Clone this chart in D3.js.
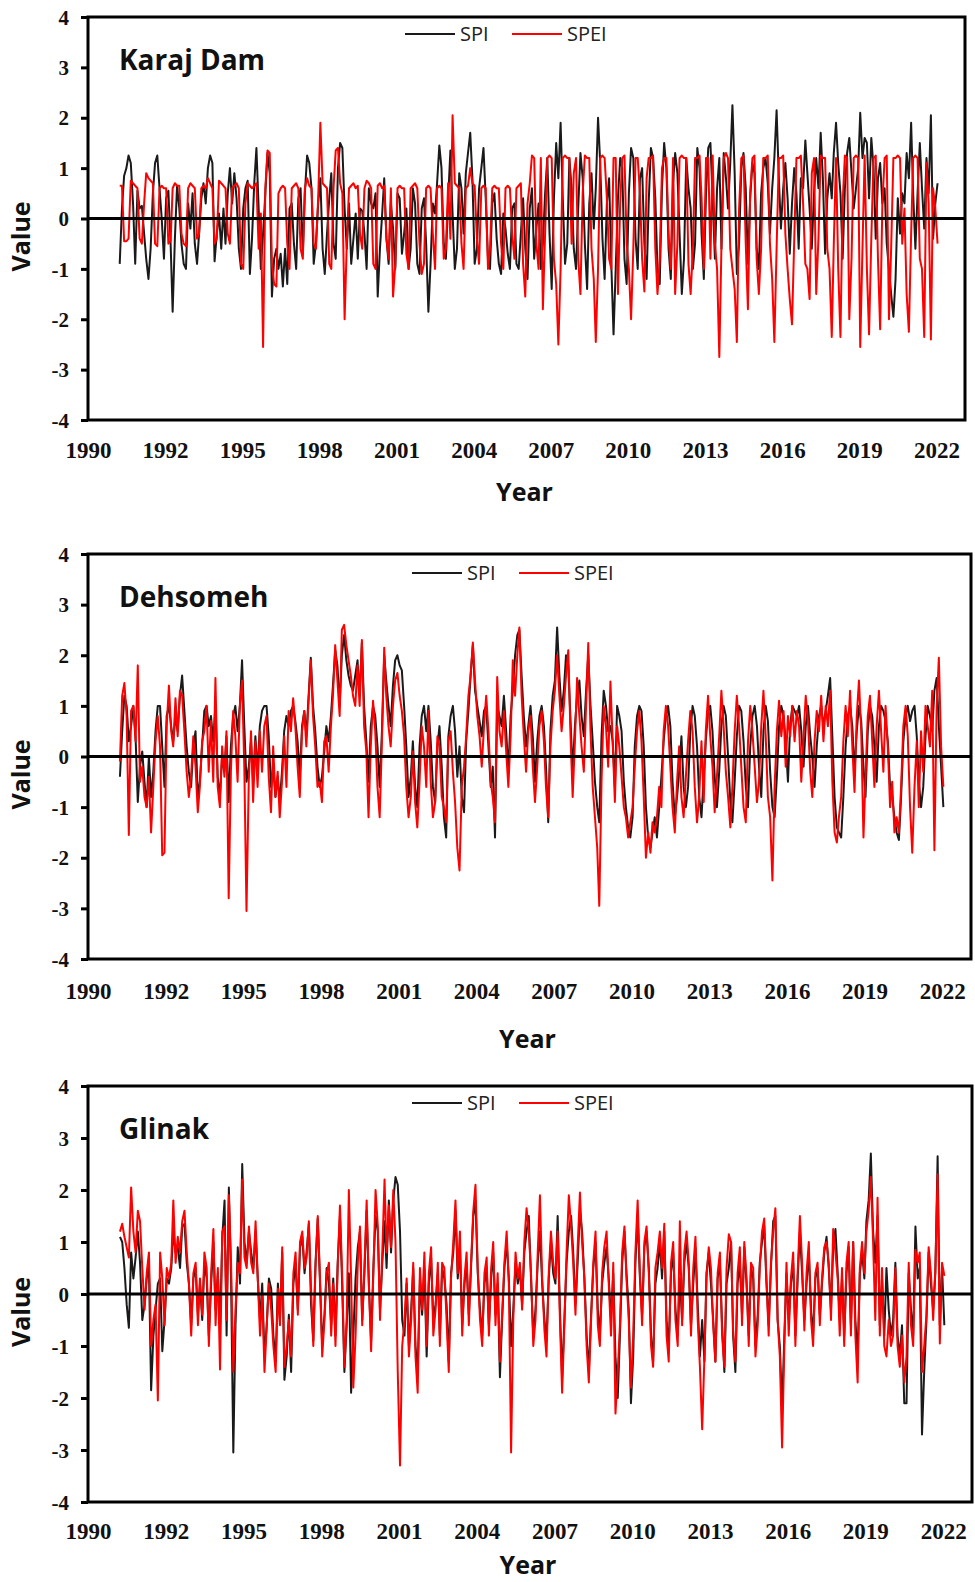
<!DOCTYPE html>
<html>
<head>
<meta charset="utf-8">
<script src="https://cdn.jsdelivr.net/npm/d3@7"></script>
<style>
  body { margin: 0; background: #fff; }
  svg { display: block; }
</style>
</head>
<body>
<svg id="chart" width="975" height="1582"></svg>
<script>
// Monthly drought indices (SPI and SPEI), March 1991 – February 2022, one row per year.
const seriesStart = new Date(1991, 2, 15);

const karajSPI = [
  -0.9,0.2,0.85,1.0,1.25,1.1,0.3,-0.9,0.55,0.2,0.25,-0.3,
  -0.8,-1.2,-0.6,0.5,1.1,1.25,0.6,0.0,-0.8,0.4,0.55,-0.5,
  -1.85,-0.4,0.65,0.2,-0.5,-0.9,-1.0,0.3,-0.2,0.5,-0.5,-0.9,
  -0.3,0.4,0.7,0.3,1.0,1.25,1.1,-0.85,-0.3,0.1,-0.6,0.2,
  -0.5,0.5,1.0,0.3,0.9,0.4,-0.6,-1.0,0.2,0.6,0.75,-1.1,
  -0.4,0.7,1.4,0.2,-1.0,-0.3,0.5,1.3,0.9,-1.55,-0.8,-0.6,
  -1.0,-0.7,-1.35,-0.6,-1.3,0.2,0.3,-0.5,-1.0,0.4,0.6,-0.7,
  0.5,1.25,1.1,0.6,-0.9,-0.5,0.3,0.8,-0.6,-1.1,-0.3,0.4,
  0.9,-0.5,-0.8,1.0,1.5,1.4,0.2,-0.6,0.3,-0.9,-0.4,0.1,
  -0.8,0.2,0.15,-0.3,-1.0,0.6,0.3,0.2,0.5,-1.55,-0.6,0.1,
  0.8,-0.4,-0.9,0.3,-0.2,-1.0,0.5,0.4,-0.7,-0.3,0.2,-1.0,
  -0.6,0.6,0.3,-0.9,-1.1,0.2,0.4,-0.5,-1.85,-0.9,0.3,0.1,
  0.7,1.45,1.0,-0.5,-0.8,0.4,1.35,0.1,-1.0,-0.6,0.9,0.6,
  -0.3,0.9,1.3,1.7,0.8,-0.9,-0.6,0.6,1.0,1.4,0.4,-0.8,
  -1.0,0.3,0.5,-0.4,-0.9,-1.1,0.1,-0.2,-0.7,-1.0,0.2,0.3,
  -0.9,-1.0,-0.3,0.4,-0.6,-1.2,0.2,0.6,-0.8,-0.2,0.3,-1.0,
  -0.5,0.5,1.2,-0.3,-1.4,0.4,1.5,0.8,1.9,0.4,-0.9,-0.5,
  1.2,0.6,-0.6,-1.0,0.2,1.3,0.8,-0.5,-1.4,0.3,0.9,-0.2,
  0.6,2.0,1.1,-0.4,-1.2,0.3,0.8,-0.9,-2.3,-1.0,0.4,1.2,
  1.0,-0.8,-1.3,0.5,1.4,1.2,-0.4,-1.0,0.8,1.0,-0.5,-1.2,
  0.3,1.4,1.2,0.4,-1.0,-1.3,0.6,1.5,1.0,-0.6,-1.2,0.7,
  1.3,0.9,-0.3,-1.5,-0.8,1.2,0.6,0.2,-1.0,-0.5,1.4,1.0,
  -0.3,-1.2,0.5,1.4,1.5,0.4,-0.8,0.6,1.2,-0.6,1.3,0.8,
  0.2,1.1,2.25,0.9,-1.1,-0.5,1.0,1.3,0.6,-0.9,0.4,1.1,
  0.9,-0.6,-1.0,0.5,1.0,1.2,0.7,-0.3,0.6,1.2,2.15,0.8,
  -0.2,0.6,1.1,0.4,-0.7,0.3,1.0,0.5,-0.6,0.8,0.6,1.55,
  0.9,0.2,-0.6,0.5,1.2,0.6,1.7,0.8,-0.7,0.4,0.9,0.4,
  1.3,1.9,1.1,0.5,-0.8,0.6,1.3,1.6,0.9,0.2,0.6,1.0,
  2.1,1.2,1.6,1.5,0.4,1.6,1.0,-0.4,0.8,1.1,0.3,0.6,
  -0.5,-1.0,-1.5,-1.95,-1.2,0.4,-0.3,0.5,0.3,1.3,0.8,1.9,
  0.5,-0.6,0.5,1.5,0.6,-0.2,1.2,0.5,2.05,-0.4,0.3,0.7
];

const karajSPEI = [
  0.65,0.65,-0.45,-0.45,-0.4,0.75,0.7,0.65,0.6,-0.4,-0.5,0.3,
  0.9,0.8,0.75,0.7,-0.5,-0.55,0.6,0.65,0.6,0.6,-0.5,-0.45,
  0.6,0.7,0.65,0.65,-0.3,-0.5,-0.55,0.6,0.7,0.65,0.6,-0.4,
  -0.3,0.6,0.65,0.6,0.8,0.7,0.6,-0.5,-0.4,0.75,0.7,0.65,
  0.6,-0.3,-0.5,0.6,0.65,0.7,0.6,-0.9,-1.0,0.3,0.7,0.65,
  0.6,0.65,0.7,-0.6,0.1,-2.55,0.6,1.35,1.3,-0.9,-1.3,-1.35,
  0.5,0.6,0.65,0.6,-0.5,-1.0,0.6,0.65,0.7,0.6,-0.6,-0.8,
  0.6,0.8,0.65,0.6,-0.5,-0.6,0.4,1.9,0.7,0.65,0.6,-0.9,
  -1.0,0.6,1.35,1.4,0.7,0.5,-2.0,-0.5,0.6,0.65,0.7,0.6,
  0.65,-0.3,-0.6,0.6,0.75,0.7,0.6,-0.9,-1.0,0.65,0.7,0.6,
  0.65,-0.4,-0.8,0.6,-1.55,-0.9,0.6,0.65,0.6,0.6,-0.7,-1.0,
  0.6,0.65,0.7,0.6,-0.5,-1.1,-0.9,0.6,0.65,0.6,-0.3,-1.0,
  0.6,0.65,0.6,-0.8,-0.6,0.7,-0.4,2.05,0.7,0.65,0.6,-0.5,
  -1.0,0.6,0.65,1.0,0.7,0.65,-0.4,-0.9,0.6,0.65,0.6,-1.0,
  -0.6,0.6,0.65,0.6,0.6,-0.5,-1.0,0.6,0.65,0.6,-0.3,-0.8,
  0.6,0.65,0.7,-0.9,-1.55,0.3,0.7,1.25,1.2,-0.5,-1.0,1.2,
  -1.8,-0.3,1.2,1.25,1.2,-0.8,-1.3,-2.5,-1.0,1.2,1.25,1.2,
  1.2,-0.5,0.9,1.2,-0.8,-1.5,0.5,1.25,1.2,1.2,-0.6,-1.2,
  -2.45,-1.0,1.2,1.25,1.2,0.4,-0.8,-1.0,1.2,1.2,-1.5,0.3,
  1.2,1.25,-0.5,-1.0,-2.0,-0.6,1.2,1.2,0.5,-0.8,-1.45,0.8,
  1.2,1.2,1.25,-0.6,-1.5,-0.8,1.0,1.2,1.2,-0.3,-1.0,1.2,
  -1.5,-0.5,1.2,1.25,1.2,1.2,-0.9,-1.5,-0.6,1.2,1.2,1.25,
  0.4,-1.0,1.2,1.2,-0.8,1.25,-0.5,-1.0,-2.75,-0.5,1.2,1.3,
  1.2,-0.6,-1.0,-1.4,-2.45,0.2,1.2,1.25,-0.5,-1.8,0.5,1.2,
  1.25,-0.8,-1.5,-0.6,1.2,1.2,1.25,-0.5,-1.2,-2.45,-0.6,1.2,
  1.2,1.25,-0.3,-1.0,-1.6,-2.1,-0.4,1.2,1.2,1.25,0.3,-0.9,
  -1.0,-1.6,0.9,1.2,-1.5,-0.4,1.25,1.2,1.2,-0.6,-1.0,-2.35,
  -0.5,1.2,-1.0,-2.35,0.3,1.25,1.2,-2.0,-0.8,1.2,1.25,1.2,
  -2.55,-0.6,1.25,-1.0,-2.3,-0.4,1.2,1.25,-0.8,-2.2,0.3,1.2,
  1.25,-2.0,-0.6,1.2,1.2,1.25,1.2,-0.5,0.2,-1.5,-2.25,-0.3,
  1.2,1.25,1.2,-0.8,-1.0,-2.35,1.1,0.3,-2.4,0.6,0.2,-0.5
];

const dehsomehSPI = [
  -0.4,0.5,1.2,1.0,0.3,0.6,1.0,0.4,-0.9,-0.2,0.1,-0.5,
  -1.0,0.0,-0.8,-0.3,0.5,1.0,1.0,0.2,-0.6,0.8,1.0,0.6,
  0.3,0.8,0.5,1.2,1.6,0.9,0.2,-0.3,-0.6,0.2,0.5,-0.8,
  -0.5,0.2,0.9,1.0,0.6,0.8,0.3,1.0,-0.4,-0.8,0.0,-0.3,
  0.4,-0.9,0.2,0.8,1.0,0.5,1.0,1.9,0.6,-0.5,-0.2,0.3,
  -0.5,0.4,-0.3,0.6,0.9,1.0,1.0,0.4,-0.6,-0.2,-0.8,-0.4,
  -0.9,-0.3,0.5,0.8,0.6,0.9,1.0,0.7,0.3,-0.4,0.6,0.9,
  0.4,1.2,1.95,1.0,0.5,-0.2,-0.6,-0.4,0.1,0.6,0.3,0.8,
  1.4,2.1,1.8,1.0,2.0,2.4,1.9,1.6,1.4,1.3,1.6,1.9,
  1.2,2.25,1.0,0.3,-0.5,0.6,1.0,0.8,0.2,-0.6,0.5,2.0,
  1.5,1.0,0.6,1.4,1.9,2.0,1.8,1.7,1.0,0.2,-0.8,-0.4,
  0.3,-0.6,-1.0,0.2,0.8,1.0,0.5,1.0,0.3,-0.6,-0.9,0.2,
  0.6,-0.2,-1.2,-1.6,0.4,0.8,1.0,0.5,-0.4,0.2,-0.8,-1.1,
  0.3,0.9,1.6,2.2,1.3,1.0,0.7,0.4,0.9,1.0,0.2,-0.6,
  -0.2,-1.6,1.0,0.8,0.6,1.2,0.5,-0.3,0.8,1.3,2.0,2.4,
  2.5,1.6,0.8,0.2,0.6,1.0,0.4,-0.5,0.3,0.8,1.0,0.6,
  -0.2,-1.3,0.5,1.2,1.5,2.55,1.6,0.9,1.3,2.0,1.8,0.7,
  -0.3,0.6,1.2,1.5,0.8,0.4,1.3,2.0,1.0,0.3,-0.5,-1.0,
  -1.3,0.4,1.3,1.0,0.5,0.6,0.3,-0.6,1.0,0.8,0.5,-0.5,
  -1.0,-1.4,-1.6,-1.2,0.2,0.8,1.0,0.9,0.2,-1.0,-1.6,-1.8,
  -1.5,-1.2,-1.6,-1.0,-0.4,0.3,0.8,1.0,0.6,-0.5,-1.2,-0.8,
  -0.3,0.4,-0.6,-1.0,-0.6,0.5,1.0,0.8,0.2,-0.8,-1.2,-0.4,
  0.3,0.9,1.0,0.5,-0.4,-1.0,-0.3,0.6,1.0,0.8,0.0,-0.9,
  -1.3,-0.5,0.4,1.0,0.9,0.3,-0.6,-1.0,0.2,0.8,1.0,0.6,
  -0.2,-0.8,0.5,1.0,0.7,-0.3,-1.0,-1.2,-0.4,0.6,1.0,0.8,
  0.3,-0.5,0.6,1.0,0.9,0.8,1.0,0.5,-0.2,0.6,1.0,0.4,
  0.0,-0.6,0.2,0.8,1.0,0.6,0.9,1.2,1.55,0.4,-0.8,-1.4,
  -1.5,-1.6,-0.8,0.2,0.8,1.0,0.6,-0.3,0.5,1.0,0.7,-0.2,
  -0.8,0.5,1.0,0.8,0.2,-0.5,0.6,1.0,0.9,0.7,0.3,-0.6,
  -0.8,-1.2,-1.5,-1.65,-0.8,0.3,0.8,1.0,0.7,0.9,1.0,0.4,
  -0.5,-1.0,-0.6,0.4,1.0,0.8,0.5,1.3,1.55,0.6,-0.2,-1.0
];

const dehsomehSPEI = [
  -0.1,1.2,1.45,0.8,-1.55,0.9,1.0,0.3,1.8,-0.5,-0.2,-0.8,
  -1.0,-0.4,-1.5,-0.6,0.3,0.8,0.2,-1.95,-1.9,0.6,1.4,0.5,
  0.2,1.15,0.4,1.3,1.2,0.5,-0.3,-0.8,-0.4,0.4,-0.2,-1.1,
  -0.6,0.3,0.5,1.0,-0.3,0.7,-0.5,1.55,-0.6,-1.0,0.2,-0.4,
  0.5,-2.8,-0.3,0.9,0.4,-0.5,1.0,1.5,-0.2,-3.05,-0.5,0.5,
  -0.9,0.3,-0.6,0.5,-0.3,0.6,0.8,-0.4,-1.1,0.2,-0.8,-0.3,
  -1.2,-0.5,0.4,-0.6,0.9,0.5,1.15,0.6,-0.2,-0.8,0.5,0.9,
  0.2,1.1,1.9,0.8,0.2,-0.6,-0.5,-0.9,0.3,0.4,-0.3,0.6,
  1.2,2.2,1.5,0.8,2.5,2.6,2.2,1.9,1.6,1.2,1.0,1.8,
  1.0,2.3,0.6,0.1,-1.2,0.2,1.1,0.5,-0.6,-1.2,0.3,2.15,
  1.2,0.6,0.2,1.0,1.5,1.65,1.2,0.9,0.4,-0.6,-1.2,-0.8,
  0.1,-0.9,-1.4,-0.5,0.6,0.2,-0.6,0.9,-0.5,-1.2,-0.9,0.4,
  0.2,-0.8,-1.0,-1.3,0.3,0.5,-0.3,-0.9,-1.8,-2.25,-0.6,-0.2,
  0.4,1.2,1.6,2.25,1.5,0.8,0.4,-0.2,0.6,1.2,0.5,-0.5,
  -0.8,-1.3,1.57,0.5,0.2,0.9,0.1,-0.6,0.4,1.9,1.2,2.0,
  2.55,1.2,0.4,-0.3,0.5,0.8,-0.2,-0.9,-0.2,0.6,0.9,0.3,
  -0.6,-1.2,0.2,0.9,1.3,2.0,1.2,0.5,1.0,1.6,2.1,0.4,
  -0.8,0.3,1.55,0.8,0.2,-0.3,1.0,2.24,0.5,-0.6,-1.2,-1.8,
  -2.95,-0.5,1.0,0.6,-0.2,1.48,0.3,-0.9,0.6,0.2,-0.4,-1.0,
  -1.2,-1.6,-1.3,-1.0,-0.2,0.5,0.9,0.3,-0.8,-2.0,-1.5,-1.9,
  -1.3,-1.5,-1.2,-0.6,-1.0,0.5,1.0,0.6,-0.2,-1.0,-1.5,-0.5,
  0.2,-0.8,-1.2,-0.4,0.3,0.9,0.5,-0.6,-1.3,-0.8,0.3,-0.9,
  0.5,1.2,0.4,-0.2,-1.1,-0.4,0.4,1.3,0.6,-0.3,-0.8,-1.4,
  -0.6,0.5,1.2,0.6,-0.2,-1.0,-1.3,0.3,1.0,0.5,-0.2,-0.9,
  -0.5,0.6,1.3,0.4,-0.8,-1.2,-2.45,-0.6,0.5,1.1,0.4,0.9,
  -0.2,0.8,0.4,1.0,0.3,0.9,0.6,-0.5,0.4,1.2,0.7,-0.3,
  -0.8,0.3,0.9,0.5,1.2,0.3,1.0,0.6,1.3,-0.5,-1.5,-1.7,
  -1.2,-0.8,0.3,1.0,0.4,1.3,0.2,-0.7,0.8,1.5,0.5,-1.6,
  -0.4,0.8,1.2,0.3,-0.6,0.6,1.3,0.5,-0.3,1.0,0.2,-1.0,
  -0.5,-1.5,-1.2,-1.5,-0.6,0.6,1.0,0.4,-1.0,-1.9,-0.6,0.3,
  -1.0,0.5,-0.3,1.0,0.6,0.2,1.3,-1.85,1.0,1.95,0.2,-0.6
];

const glinakSPI = [
  1.1,1.0,0.5,-0.2,-0.65,0.8,0.3,0.7,1.2,0.6,-0.5,-0.2,
  0.3,0.5,-1.85,-0.8,-0.3,0.2,0.3,-1.1,-0.5,0.3,0.2,0.5,
  1.2,0.8,0.9,0.5,1.3,1.35,0.6,0.2,-0.6,0.3,0.5,-0.4,
  0.2,-0.5,0.6,0.3,-0.8,0.2,1.0,-0.3,0.4,-0.6,1.1,1.8,
  -0.8,2.05,0.3,-3.05,-0.6,0.9,0.2,2.5,1.0,0.6,1.2,0.8,
  0.5,1.2,0.3,-0.5,0.2,-1.2,-0.6,0.3,0.1,-0.8,-1.3,0.2,
  -0.5,0.8,-1.65,-1.2,-0.4,-1.5,0.2,0.6,-0.3,0.9,1.1,0.4,
  0.8,1.35,-0.2,-0.9,0.6,1.45,0.2,-1.0,-0.4,0.5,0.2,-0.6,
  0.3,-0.8,0.6,1.5,0.2,-1.5,-0.6,0.4,-1.9,-0.8,0.3,0.9,
  1.2,-0.5,0.4,1.6,0.2,-0.9,0.5,1.5,1.2,-0.3,0.6,1.4,
  0.5,1.8,0.8,1.8,2.25,2.1,1.2,-0.5,-0.8,0.2,-1.0,-0.3,
  0.5,-1.0,-1.5,0.3,-0.4,0.5,-1.2,0.2,0.7,-0.5,-0.2,0.4,
  -0.8,0.5,0.3,-0.2,-1.3,0.4,0.8,1.6,0.3,0.9,-0.6,0.2,
  0.6,-0.4,0.5,1.5,1.8,0.4,-0.3,-0.8,0.2,0.5,-0.6,0.3,
  0.8,-0.4,0.2,-1.6,-0.5,0.5,1.0,0.3,-1.0,-0.3,0.6,0.2,
  0.5,-0.2,0.8,1.2,1.5,0.3,-0.8,-0.3,0.6,1.2,0.2,-0.5,
  -0.9,0.3,1.0,0.4,0.2,1.5,-0.3,-1.6,-0.5,0.6,1.2,1.5,
  0.8,-0.2,0.6,1.6,1.2,0.3,-0.8,-1.5,-0.4,0.5,1.0,-0.3,
  -0.8,0.2,0.6,0.9,0.3,-0.5,0.4,-1.2,-2.0,-0.8,0.6,1.2,
  0.4,-0.3,-2.1,-1.2,0.6,1.5,0.3,-0.4,0.9,1.2,0.5,-0.8,
  -1.3,0.2,0.5,1.0,0.3,1.2,-0.5,-1.0,0.4,0.8,-0.3,-0.8,
  0.3,-0.5,0.6,1.0,0.5,-0.6,0.2,0.9,-0.2,-1.2,-0.5,-1.3,
  0.4,0.8,0.2,-0.5,-1.3,0.3,0.6,-0.6,-1.5,0.2,0.5,1.0,
  -0.8,-1.5,0.2,0.6,-0.4,0.9,0.2,-0.8,0.5,0.3,-1.0,-0.4,
  0.6,1.0,1.3,0.2,-0.6,0.5,1.4,1.5,-0.5,-1.0,-2.2,-0.8,
  0.4,-0.5,0.2,0.6,-0.8,0.3,1.2,0.4,-0.5,0.2,0.8,-0.3,
  -0.8,0.3,0.5,-0.4,0.2,0.8,1.1,0.5,-0.3,0.9,1.25,0.4,
  -0.5,0.3,-0.8,0.4,0.9,-0.6,1.0,-0.5,-1.2,0.4,0.8,0.3,
  1.4,1.8,2.7,1.2,0.6,1.5,-0.6,0.3,-0.8,0.5,-0.3,-0.8,
  -0.5,0.6,-0.8,-1.2,-0.6,-2.1,-2.1,0.4,-0.3,-0.8,1.3,0.3,
  0.5,-2.7,-1.5,-0.5,0.8,0.2,-0.3,0.4,2.65,-0.6,0.5,-0.6
];

const glinakSPEI = [
  1.2,1.35,1.1,0.9,0.7,2.05,1.2,0.8,1.6,1.4,0.5,-0.3,
  0.4,0.8,-1.0,-0.5,-0.2,-2.05,0.8,0.3,-0.6,0.5,0.3,0.6,
  1.8,0.6,1.1,0.8,1.4,1.6,0.8,0.2,-0.8,0.4,0.6,-0.6,
  0.3,-0.4,0.8,0.5,-1.0,0.4,1.25,-0.6,0.5,-1.45,1.2,1.3,
  -0.5,1.9,0.6,-1.5,-0.3,0.6,0.4,2.2,0.7,0.5,1.3,0.6,
  0.4,1.4,0.3,-0.8,0.0,-1.5,-0.6,0.2,-0.3,-1.0,-1.5,0.1,
  -0.6,0.9,-1.4,-1.0,-0.5,-1.2,0.4,0.8,-0.4,1.0,1.2,0.5,
  0.7,1.4,0.1,-1.0,0.5,1.5,0.3,-1.2,-0.5,0.4,0.6,-0.8,
  0.2,-1.0,0.5,1.7,0.4,-1.4,-0.5,2.0,0.3,-1.8,-0.8,0.6,
  1.3,-0.6,0.5,1.8,0.2,-1.1,0.4,2.0,1.3,-0.5,0.8,2.2,
  0.8,1.7,0.9,2.0,1.0,-1.5,-3.3,-1.0,-0.5,0.3,-1.2,-0.5,
  0.6,-1.2,-1.9,0.5,-0.3,0.8,-1.0,0.4,0.9,-0.8,-0.3,0.6,
  -1.0,0.6,0.5,-0.5,-1.5,0.3,1.0,1.8,0.4,1.2,-0.8,0.3,
  0.8,-0.6,0.6,1.6,2.1,0.5,-0.5,-1.0,0.4,0.7,-0.8,0.5,
  1.0,-0.6,0.4,-1.3,-0.4,0.6,1.2,0.2,-3.05,-0.5,0.8,0.3,
  0.6,-0.3,1.0,1.65,1.2,0.4,-1.0,-0.5,0.8,1.9,0.3,-0.7,
  -1.2,0.4,1.2,0.6,0.3,1.2,-0.5,-1.9,-0.6,0.8,1.9,1.3,
  0.6,-0.4,0.9,1.95,1.0,0.3,-1.0,-1.7,-0.5,0.6,1.2,-0.6,
  -1.0,0.4,0.9,1.2,0.2,-0.8,0.6,-2.3,-1.5,-0.6,0.8,1.3,
  0.3,-0.5,-1.8,-0.8,0.8,1.8,0.4,-0.6,1.0,1.3,0.4,-1.0,
  -1.4,0.5,0.8,1.2,0.5,1.35,-0.8,-1.3,0.6,1.0,-0.5,-1.0,
  1.4,-0.6,0.8,1.2,0.6,-0.8,0.5,1.1,-0.5,-1.4,-2.6,-1.2,
  0.3,0.9,0.5,-0.6,-1.3,0.4,0.8,-0.8,-1.4,0.5,1.15,1.0,
  -0.7,-1.3,0.4,0.9,-0.6,1.0,0.3,-1.0,0.6,0.5,-1.2,-0.6,
  0.5,1.2,1.45,0.3,-0.8,0.6,1.2,1.65,-0.5,-1.2,-2.95,-1.0,
  0.6,-0.8,0.3,0.8,-1.0,0.4,1.5,0.6,-0.7,0.4,1.0,-0.5,
  -1.0,0.4,0.6,-0.6,0.3,0.9,1.0,0.6,-0.5,1.25,0.8,0.3,
  -0.8,0.5,-1.0,0.6,1.0,-0.8,1.0,-0.8,-1.7,0.5,1.0,0.4,
  1.2,1.6,2.25,1.0,-0.5,1.85,-0.8,0.5,-1.0,-1.2,-0.5,-1.0,
  -0.8,0.5,-1.0,-1.4,-0.8,-1.7,-1.2,0.6,-0.6,-1.0,0.85,0.6,
  0.8,-1.5,-1.0,-0.4,0.9,0.4,-0.5,0.5,2.3,-0.95,0.6,0.35
];

// Axis settings: a date axis from Jan 1990 with a label every 35 months.
const axisStart = new Date(1990, 0, 1);
const axisEnd = new Date(1990, 398, 1);
const majorUnitMonths = 35;
const yearLabels = ["1990","1992","1995","1998","2001","2004","2007","2010","2013","2016","2019","2022"];
const valueTicks = [-4, -3, -2, -1, 0, 1, 2, 3, 4];
const valueLabels = ["-4","-3","-2","-1","0","1","2","3","4"];
const legendItems = [{ key: "SPI", color: "#1a1a1a" }, { key: "SPEI", color: "#ff0000" }];

const stations = [
  { name: "Karaj Dam", spi: karajSPI, spei: karajSPEI },
  { name: "Dehsomeh", spi: dehsomehSPI, spei: dehsomehSPEI },
  { name: "Glinak", spi: glinakSPI, spei: glinakSPEI }
];

// Panel frames
const layout = [
  { top: 17, bottom: 420, left: 88, right: 965, labelGap: 22, yearGap: 81, legendX: 405, legendDy: 17 },
  { top: 554, bottom: 959, left: 88, right: 971, labelGap: 24, yearGap: 89, legendX: 412, legendDy: 19 },
  { top: 1086, bottom: 1502, left: 88, right: 972, labelGap: 21, yearGap: 72, legendX: 412, legendDy: 17 }
];

const svg = d3.select("#chart");
const serifFont = "'Liberation Serif', 'Times New Roman', serif";
const sansFont = "'Open Sans', 'Liberation Sans', sans-serif";

stations.forEach((st, p) => {
  const L = layout[p];
  const g = svg.append("g");

  const x = d3.scaleTime().domain([axisStart, axisEnd]).range([L.left, L.right]);
  const y = d3.scaleLinear().domain([-4, 4]).range([L.bottom, L.top]);

  const dates = st.spi.map((_, i) => d3.timeMonth.offset(seriesStart, i));
  const tickDates = yearLabels.map((_, k) => d3.timeMonth.offset(axisStart, k * majorUnitMonths));

  // value axis
  const yAxis = g.append("g")
    .attr("transform", `translate(${L.left},0)`)
    .call(d3.axisLeft(y).tickValues(valueTicks).tickFormat((d, i) => valueLabels[i])
      .tickSize(7).tickSizeOuter(0).tickPadding(12));
  yAxis.select(".domain").remove();
  yAxis.selectAll(".tick line").attr("stroke", "#000").attr("stroke-width", 3);
  yAxis.selectAll(".tick text")
    .attr("font-family", serifFont).attr("font-weight", "bold")
    .attr("font-size", 21).attr("fill", "#111").attr("dy", "0.34em");

  // year axis
  const xAxis = g.append("g")
    .attr("transform", `translate(0,${L.bottom})`)
    .call(d3.axisBottom(x).tickValues(tickDates).tickFormat((d, i) => yearLabels[i])
      .tickSize(0).tickSizeOuter(0).tickPadding(L.labelGap));
  xAxis.select(".domain").remove();
  xAxis.selectAll(".tick text")
    .attr("font-family", serifFont).attr("font-weight", "bold")
    .attr("font-size", 23).attr("fill", "#111");

  // series
  const line = d3.line().x((d, i) => x(dates[i])).y(d => y(d));
  g.append("path").datum(st.spi)
    .attr("fill", "none").attr("stroke", legendItems[0].color)
    .attr("stroke-width", 2).attr("stroke-linejoin", "round")
    .attr("d", line);
  g.append("path").datum(st.spei)
    .attr("fill", "none").attr("stroke", legendItems[1].color)
    .attr("stroke-width", 2).attr("stroke-linejoin", "round")
    .attr("d", line);

  // zero line
  g.append("line")
    .attr("x1", L.left).attr("x2", L.right)
    .attr("y1", y(0)).attr("y2", y(0))
    .attr("stroke", "#000").attr("stroke-width", 3);

  // plot frame
  g.append("rect")
    .attr("x", L.left).attr("y", L.top)
    .attr("width", L.right - L.left).attr("height", L.bottom - L.top)
    .attr("fill", "none").attr("stroke", "#000").attr("stroke-width", 3);

  // station name
  g.append("text")
    .attr("x", L.left + 31).attr("y", L.top + 53)
    .attr("font-family", sansFont).attr("font-weight", "bold")
    .attr("font-size", 28).attr("fill", "#111")
    .text(st.name);

  // legend
  const lg = g.append("g").attr("transform", `translate(${L.legendX},${L.top + L.legendDy})`);
  const offsets = [0, 107];
  legendItems.forEach((item, j) => {
    lg.append("line")
      .attr("x1", offsets[j]).attr("x2", offsets[j] + 50)
      .attr("y1", 0).attr("y2", 0)
      .attr("stroke", item.color).attr("stroke-width", 2);
    lg.append("text")
      .attr("x", offsets[j] + 55).attr("y", 0).attr("dy", "0.36em")
      .attr("font-family", sansFont).attr("font-size", 20).attr("fill", "#222")
      .text(item.key);
  });

  // axis titles
  g.append("text")
    .attr("transform", `translate(30,${y(0) + 18}) rotate(-90)`)
    .attr("text-anchor", "middle")
    .attr("font-family", sansFont).attr("font-weight", "bold")
    .attr("font-size", 25).attr("fill", "#111")
    .text("Value");
  g.append("text")
    .attr("x", (L.left + L.right) / 2 - 2).attr("y", L.bottom + L.yearGap)
    .attr("text-anchor", "middle")
    .attr("font-family", sansFont).attr("font-weight", "bold")
    .attr("font-size", 25).attr("fill", "#111")
    .text("Year");
});
</script>
</body>
</html>
